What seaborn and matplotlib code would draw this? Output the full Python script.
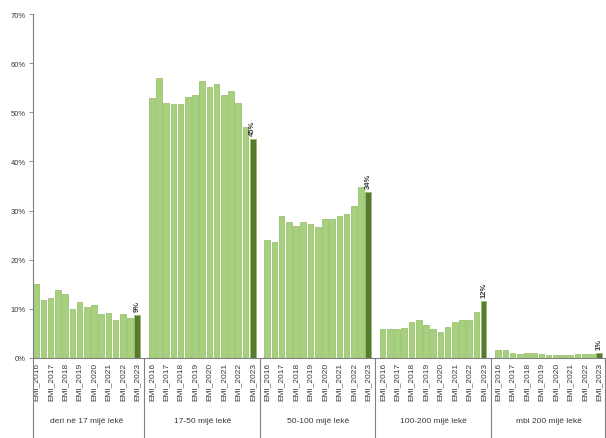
import matplotlib
matplotlib.use("Agg")
import matplotlib.pyplot as plt
import seaborn as sns
import pandas as pd

# Size classes (amount of the loan, thousand lekë)
groups = [
    "deri në 17 mijë lekë",
    "17-50 mijë lekë",
    "50-100 mijë lekë",
    "100-200 mijë lekë",
    "mbi 200 mijë lekë",
]

# Half-year reporting periods, 2016 H1 .. 2023 H1
periods = [
    "EMI_2016", "EMI_2016_2", "EMI_2017", "EMI_2017_2", "EMI_2018", "EMI_2018_2",
    "EMI_2019", "EMI_2019_2", "EMI_2020", "EMI_2020_2", "EMI_2021", "EMI_2021_2",
    "EMI_2022", "EMI_2022_2", "EMI_2023",
]
tick_labels = ["EMI_2016", "EMI_2017", "EMI_2018", "EMI_2019",
               "EMI_2020", "EMI_2021", "EMI_2022", "EMI_2023"]

# Share of each size class (%)
share_lt17 = [15.0, 11.8, 12.2, 13.9, 13.1, 10.0, 11.4, 10.4, 10.7, 8.9, 9.1, 7.8, 8.9, 8.2, 8.8]
share_17_50 = [53.0, 57.0, 51.8, 51.6, 51.6, 53.2, 53.6, 56.4, 55.2, 55.8, 53.6, 54.3, 51.8, 47.0, 44.6]
share_50_100 = [24.1, 23.6, 28.8, 27.6, 26.9, 27.7, 27.3, 26.6, 28.2, 28.2, 28.8, 29.3, 30.9, 34.7, 33.7]
share_100_200 = [6.0, 6.0, 6.0, 6.2, 7.3, 7.8, 6.7, 5.8, 5.3, 6.3, 7.3, 7.8, 7.8, 9.4, 11.6]
share_gt200 = [1.6, 1.6, 1.0, 0.9, 1.1, 1.1, 0.9, 0.7, 0.6, 0.6, 0.7, 0.8, 0.8, 0.8, 1.0]
series = [share_lt17, share_17_50, share_50_100, share_100_200, share_gt200]

LIGHT = "#a6d07c"
DARK = "#587a2f"
TEXT = "#3a3a3a"
AXIS = "#808080"

rows = []
order = []
for g, (grp, vals) in enumerate(zip(groups, series)):
    for i, (p, v) in enumerate(zip(periods, vals)):
        key = f"{grp} | {p}"
        rows.append({"key": key, "group": grp, "period": p, "share": v,
                     "kind": "latest" if i == len(periods) - 1 else "earlier"})
        order.append(key)
    if g < len(groups) - 1:
        order.append(f"{grp} | ")  # empty slot between size classes
df = pd.DataFrame(rows)

sns.set_theme(style="white")
plt.rcParams["font.family"] = ["Liberation Sans", "DejaVu Sans"]

fig = plt.figure(figsize=(6.06, 4.39), dpi=100)
ax = fig.add_axes([33 / 606, 80 / 439, 573 / 606, 344 / 439])

sns.barplot(data=df, x="key", y="share", hue="kind", order=order,
            palette={"earlier": LIGHT, "latest": DARK}, dodge=False,
            saturation=1, width=0.78, errorbar=None, edgecolor="#8fb866",
            linewidth=0.5, legend=False, ax=ax)

pos = {k: i for i, k in enumerate(order)}

ax.set_xlim(-0.45, len(order) - 0.05)
ax.set_ylim(0, 70)
ax.set_yticks(range(0, 71, 10))
ax.set_yticklabels([f"{v}%" for v in range(0, 71, 10)])
ax.tick_params(axis="y", length=3, width=0.6, color=AXIS, labelsize=5.5,
               labelcolor=TEXT, direction="out", left=True, pad=2)

xt, xl = [], []
for grp in groups:
    for i in range(0, len(periods), 2):
        xt.append(pos[f"{grp} | {periods[i]}"])
        xl.append(periods[i])
ax.set_xticks(xt)
ax.set_xticklabels(xl, rotation=90, fontsize=6, color=TEXT)
ax.tick_params(axis="x", length=0, pad=3)
ax.set_xlabel("")
ax.set_ylabel("")

for s in ["top", "right"]:
    ax.spines[s].set_visible(False)
for s in ["left", "bottom"]:
    ax.spines[s].set_color(AXIS)
    ax.spines[s].set_linewidth(0.8)

trans = ax.get_xaxis_transform()
bottom = -80 / 344
# Vertical dividers between size classes, running through the label area
dividers = [ax.get_xlim()[0]] + [pos[f"{grp} | "] for grp in groups[:-1]] + [ax.get_xlim()[1] - 0.1]
for x in dividers:
    ax.plot([x, x], [0, bottom], transform=trans, color=AXIS, lw=0.8, clip_on=False)

# Size-class names and the value of the latest period
for grp, vals in zip(groups, series):
    first = pos[f"{grp} | {periods[0]}"]
    last = pos[f"{grp} | {periods[-1]}"]
    ax.text((first + last) / 2, -63 / 344, grp, transform=trans, ha="center",
            va="center", fontsize=6, color=TEXT)
    ax.text(last, vals[-1] + 0.8, f"{vals[-1]:.0f}%", rotation=90, ha="center",
            va="bottom", fontsize=5.5, fontweight="bold", color=TEXT)

fig.savefig("out.png", dpi=100)
